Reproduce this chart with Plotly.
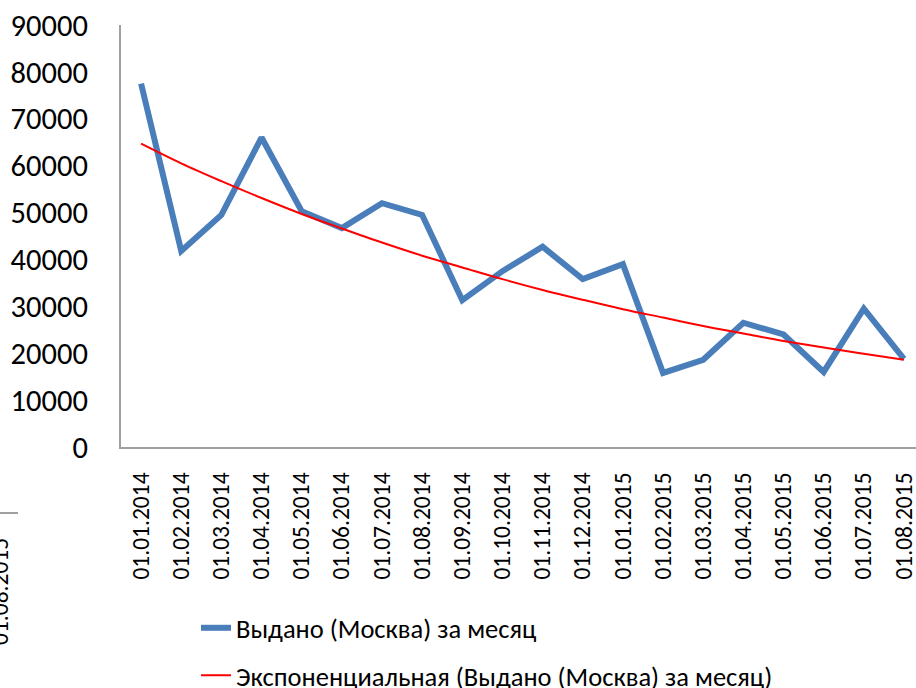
import plotly.graph_objects as go

# --- data
dates = ["01.01.2014", "01.02.2014", "01.03.2014", "01.04.2014", "01.05.2014",
         "01.06.2014", "01.07.2014", "01.08.2014", "01.09.2014", "01.10.2014",
         "01.11.2014", "01.12.2014", "01.01.2015", "01.02.2015", "01.03.2015",
         "01.04.2015", "01.05.2015", "01.06.2015", "01.07.2015", "01.08.2015"]
issued = [77500, 41800, 49500, 66000, 50300, 46700, 52000, 49500, 31300, 37500,
          42700, 35800, 39000, 15800, 18600, 26500, 24000, 16000, 29500, 18800]
trend = [64700, 60500, 56700, 53100, 49700, 46600, 43600, 40800, 38300, 35800,
         33500, 31400, 29400, 27600, 25800, 24200, 22600, 21200, 19900, 18600]
y_ticks = [0, 10000, 20000, 30000, 40000, 50000, 60000, 70000, 80000, 90000]

FONT = "Calibri, Carlito, Lato, sans-serif"

fig = go.Figure()
fig.add_trace(go.Scatter(x=dates, y=issued, mode="lines", name="Выдано (Москва) за месяц",
                         legendgroup="a", line=dict(color="#4a7ebb", width=6)))
fig.add_trace(go.Scatter(x=dates, y=trend, mode="lines", line_shape="spline",
                         name="Экспоненциальная (Выдано (Москва) за месяц)",
                         legendgroup="b", line=dict(color="#ff0000", width=2)))

fig.update_layout(
    width=916, height=688,
    margin=dict(l=121, r=0, t=25, b=241, autoexpand=False),
    paper_bgcolor="white", plot_bgcolor="white",
    font=dict(family=FONT, color="black"),
    showlegend=True,
    legend=dict(xref="container", yref="container", x=0.214, y=0.122,
                xanchor="left", yanchor="top",
                font=dict(size=26.5), tracegroupgap=10, traceorder="grouped",
                bgcolor="rgba(0,0,0,0)"),
    xaxis=dict(type="category", range=[-0.5, 19.3], showgrid=False,
               showline=True, linecolor="#a0a0a0", linewidth=2,
               tickangle=-90, tickfont=dict(size=23.5), ticks="",
               ticklabelstandoff=14, automargin=False),
    yaxis=dict(range=[0, 90000], tickvals=y_ticks, tickformat="d", showgrid=False,
               showline=True, linecolor="#a0a0a0", linewidth=2,
               tickfont=dict(size=30.5), ticks="", ticklabelstandoff=25,
               zeroline=False, automargin=False),
)

# cropped remnants of a neighbouring chart at the left edge
fig.add_shape(type="line", xref="paper", yref="paper",
              x0=-121 / 795, x1=-103 / 795, y0=-66 / 422, y1=-66 / 422,
              line=dict(color="#a0a0a0", width=2))
fig.add_annotation(text="01.08.2015", xref="paper", yref="paper",
                   x=-121 / 795, y=-145 / 422, textangle=-90, showarrow=False,
                   font=dict(size=23.5, family=FONT), xanchor="center", yanchor="middle")

# drop the browser's default body margin so the figure sits at the page corner
fig.write_html("out.html", config={"displayModeBar": False},
               post_script="document.body.style.margin='0';")
